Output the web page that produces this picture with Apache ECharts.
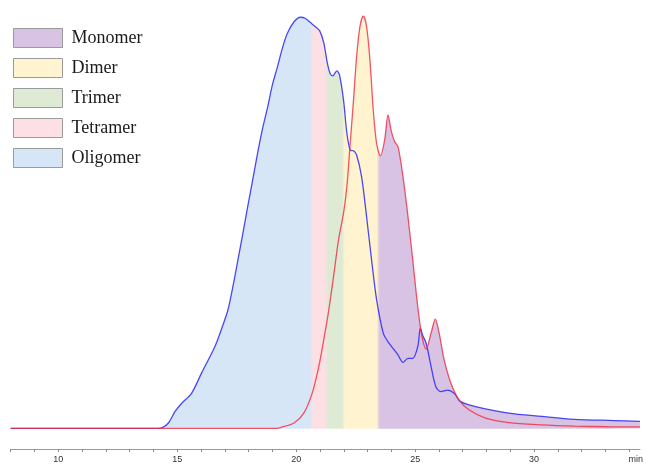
<!DOCTYPE html>
<html>
<head>
<meta charset="utf-8">
<script src="https://cdn.jsdelivr.net/npm/echarts@6/dist/echarts.min.js"></script>
<style>html,body{margin:0;padding:0;background:#fff;overflow:hidden}#c{width:646px;height:464px}</style>
</head>
<body>
<div id="c"></div>
<script>
// Blue trace (time, min ; signal, % of max)
const blueT = [8, 14.20, 14.35, 14.63, 14.91, 15.19, 15.60, 16.02, 16.58, 16.85, 17.13, 17.34, 17.55, 17.76, 17.96, 18.17, 18.38, 18.59, 18.80, 19.00, 19.21, 19.42, 19.63, 19.91, 20.18, 20.39, 20.60, 20.81, 20.99, 21.16, 21.30, 21.43, 21.54, 21.71, 21.82, 21.99, 22.13, 22.27, 22.41, 22.54, 22.75, 22.96, 23.17, 23.38, 23.66, 23.86, 24.07, 24.28, 24.49, 24.70, 24.90, 25.11, 25.22, 25.32, 25.46, 25.67, 25.87, 26.08, 26.36, 26.64, 26.91, 27.54, 28.93, 30.32, 31.70, 33.37, 34.45];
const blueV = [0, 0, 0.1, 1.3, 4.1, 6.1, 8.5, 13.4, 19.8, 23.9, 28.7, 34.4, 40.8, 47.3, 53.7, 60.2, 66.8, 72.8, 77.9, 83.3, 87.6, 92.2, 95.8, 98.6, 99.7, 99.4, 98.4, 97.4, 96.4, 93.5, 88.9, 86.0, 85.5, 86.7, 85.7, 79.6, 71.6, 67.5, 67.3, 66.3, 61.0, 51.3, 40.8, 31.2, 23.1, 21.0, 19.4, 17.8, 16.0, 17.0, 17.0, 19.8, 24.3, 22.5, 20.7, 15.0, 10.1, 8.9, 9.3, 8.5, 6.5, 5.3, 3.7, 2.9, 2.2, 1.9, 1.7];
// Red trace
const redT = [8, 19.20, 19.35, 19.91, 20.32, 20.67, 20.95, 21.16, 21.37, 21.57, 21.78, 21.99, 22.13, 22.27, 22.41, 22.54, 22.68, 22.82, 22.96, 23.10, 23.24, 23.38, 23.54, 23.72, 23.86, 24.00, 24.14, 24.28, 24.49, 24.70, 24.90, 25.11, 25.28, 25.46, 25.67, 25.85, 26.01, 26.22, 26.50, 26.84, 27.26, 27.96, 28.93, 30.32, 31.70, 33.10, 34.45];
const redV = [0, 0, 0.2, 1.3, 3.7, 8.5, 15.0, 21.5, 28.7, 36.8, 45.7, 52.2, 58.6, 69.1, 79.6, 90.1, 97.4, 100, 97.4, 89.3, 77.2, 69.1, 66.1, 70.0, 76.0, 72.0, 69.5, 68.3, 61.0, 51.3, 40.8, 29.5, 22.5, 19.2, 23.1, 26.5, 23.1, 16.6, 11.0, 6.9, 4.5, 2.5, 1.4, 0.85, 0.55, 0.4, 0.35];

// Fraction bands, left to right, and their boundaries (min)
const bandNames = ['Oligomer', 'Tetramer', 'Trimer', 'Dimer', 'Monomer'];
const bandColors = ['#d7e6f6', '#fde0e4', '#dfead5', '#fff4cf', '#d8c3e4'];
const bandEdges = [20.65, 21.27, 21.99, 23.45];
const legendOrder = ['Monomer', 'Dimer', 'Trimer', 'Tetramer', 'Oligomer'];

// x tick labels
const tickLabels = {10: '10', 15: '15', 20: '20', 25: '25', 30: '30', 34: '{m|min}'};

const zip = (a, b) => a.map((t, i) => [t, b[i]]);
const blueData = zip(blueT, blueV);
const redData = zip(redT, redV);

const chart = echarts.init(document.getElementById('c'), null, {renderer: 'canvas', width: 646, height: 464});

const legendSeries = bandNames.map((n, i) => ({
  name: n, type: 'line', data: [], color: bandColors[i], silent: true
}));

const option = {
  animation: false,
  backgroundColor: '#fff',
  grid: {left: 10.7, top: 16, width: 635.3, height: 433},
  legend: {
    data: legendOrder,
    orient: 'vertical',
    left: 13, top: 28, padding: 0,
    icon: 'rect',
    itemWidth: 49, itemHeight: 19, itemGap: 10,
    selectedMode: false,
    itemStyle: {borderColor: '#9a9a9a', borderWidth: 1},
    textStyle: {fontFamily: '"Liberation Serif", "Times New Roman", serif', fontSize: 18, color: '#1a1a1a', lineHeight: 19, padding: [0, 0, 0, 4]}
  },
  xAxis: {
    type: 'value', min: 8, max: 34.45, interval: 1,
    axisLine: {onZero: false, lineStyle: {color: '#9a9a9a', width: 1}},
    axisTick: {length: 3, lineStyle: {color: '#888'}},
    splitLine: {show: false},
    axisLabel: {
      margin: 6, fontSize: 9, color: '#333', fontFamily: '"Liberation Sans", Arial, sans-serif',
      showMaxLabel: false,
      formatter: v => tickLabels[v] || '',
      rich: {m: {fontSize: 9, color: '#333', fontFamily: '"Liberation Sans", Arial, sans-serif', padding: [0, 0, 0, 13]}}
    }
  },
  yAxis: {type: 'value', min: -5, max: 100, show: false, splitLine: {show: false}},
  series: [
    {id: 'fillBlue', type: 'line', data: blueData, smooth: 0.3, symbol: 'none', lineStyle: {width: 0, opacity: 0}, areaStyle: {color: '#d7e6f6', opacity: 1}, silent: true, z: 1},
    {id: 'fillRed', type: 'line', data: redData, smooth: 0.3, symbol: 'none', lineStyle: {width: 0, opacity: 0}, areaStyle: {color: '#d7e6f6', opacity: 1}, silent: true, z: 1},
    {id: 'blueLine', type: 'line', data: blueData, smooth: 0.3, symbol: 'none', lineStyle: {color: '#2a2af5', width: 1.3, opacity: 0.85}, z: 3},
    {id: 'redLine', type: 'line', data: redData, smooth: 0.3, symbol: 'none', lineStyle: {color: '#f02a40', width: 1.3, opacity: 0.8}, z: 4}
  ].concat(legendSeries)
};
chart.setOption(option);

const X0 = chart.convertToPixel({xAxisIndex: 0}, 8);
const X1 = chart.convertToPixel({xAxisIndex: 0}, 34.45);
const span = X1 - X0;
const soft = 1.5 / span;
const stops = [{offset: 0, color: bandColors[0]}];
bandEdges.forEach((e, k) => {
  const o = (chart.convertToPixel({xAxisIndex: 0}, e) - X0) / span;
  stops.push({offset: o - soft, color: bandColors[k]});
  stops.push({offset: o + soft, color: bandColors[k + 1]});
});
stops.push({offset: 1, color: bandColors[bandColors.length - 1]});
const mk = () => new echarts.graphic.LinearGradient(X0, 0, X1, 0, stops.map(s => ({offset: s.offset, color: s.color})), true);
chart.setOption({series: [{id: 'fillBlue', areaStyle: {color: mk()}}, {id: 'fillRed', areaStyle: {color: mk()}}]});
</script>
</body>
</html>
